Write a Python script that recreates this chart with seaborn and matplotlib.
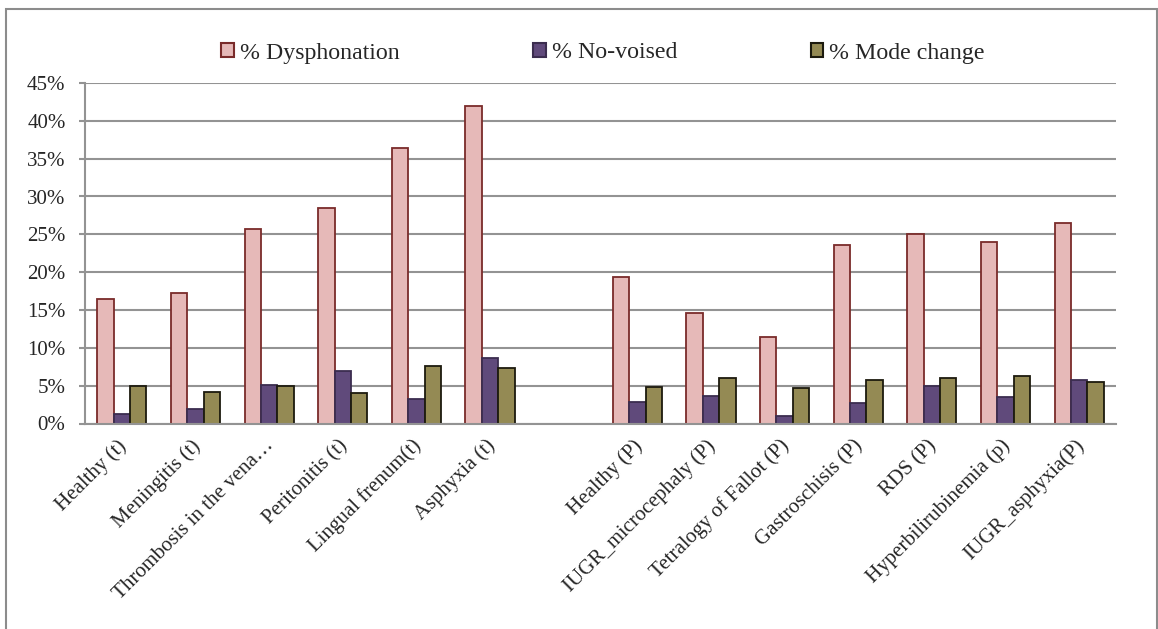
import numpy as np
import pandas as pd
import matplotlib
matplotlib.use("Agg")
import matplotlib.pyplot as plt
import matplotlib.transforms as mtransforms
from matplotlib.patches import Rectangle, Patch
from matplotlib.ticker import PercentFormatter
import seaborn as sns

# Categories (term "t" group, then preterm "P" group, separated by an empty slot)
term_conditions = ["Healthy (t)", "Meningitis (t)", "Thrombosis in the vena\u2026",
                   "Peritonitis (t)", "Lingual frenum(t)", "Asphyxia (t)"]
preterm_conditions = ["Healthy (P)", "IUGR_microcephaly (P)", "Tetralogy of Fallot (P)",
                      "Gastroschisis (P)", "RDS (P)", "Hyperbilirubinemia (p)", "IUGR_asphyxia(P)"]
spacer = " "

# Percentages per condition
dysphonation = [16.4, 17.2, 25.7, 28.5, 36.4, 42.0,
                19.4, 14.6, 11.4, 23.6, 25.1, 24.0, 26.5]
no_voised = [1.3, 1.9, 5.1, 6.9, 3.2, 8.6,
             2.8, 3.6, 0.95, 2.7, 5.0, 3.5, 5.7]
mode_change = [4.9, 4.1, 4.9, 4.0, 7.6, 7.3,
               4.8, 6.0, 4.7, 5.8, 6.0, 6.3, 5.5]

series_names = ["% Dysphonation", "% No-voised", "% Mode change"]
fill_colors = ["#E6B9B8", "#604A7B", "#948A54"]
edge_colors = ["#7A2B2A", "#3B2D4F", "#1C1A0E"]

conditions = term_conditions + preterm_conditions
order = term_conditions + [spacer] + preterm_conditions

df = pd.DataFrame({
    "condition": conditions * 3,
    "series": np.repeat(series_names, len(conditions)),
    "value": dysphonation + no_voised + mode_change,
})

sns.set_theme(style="white")
plt.rcParams["font.family"] = ["Liberation Serif", "DejaVu Serif"]
TICK_FS = 15
LEGEND_FS = 17.2

W, H = 1158, 629
fig = plt.figure(figsize=(W / 100, H / 100), dpi=100)
ax = fig.add_axes([85 / W, 1 - 423.5 / H, (1116 - 85) / W, (423.5 - 83) / H])

sns.barplot(data=df, x="condition", y="value", hue="series", order=order,
            hue_order=series_names, palette=fill_colors, width=0.667, gap=0,
            errorbar=None, legend=False, ax=ax, saturation=1)

for cont, ec in zip(ax.containers, edge_colors):
    for bar in cont:
        bar.set_edgecolor(ec)
        bar.set_linewidth(1.3)

grey = "#939393"
ax.set_ylim(0, 45)
ax.set_yticks(np.arange(0, 46, 5))
ax.yaxis.set_major_formatter(PercentFormatter(decimals=0))
ax.yaxis.grid(True, color=grey, linewidth=1.5)
ax.set_axisbelow(True)
ax.set_xlim(-0.5, len(order) - 0.5)

for side in ["top", "right"]:
    ax.spines[side].set_visible(False)
for side in ["left", "bottom"]:
    ax.spines[side].set_color(grey)
    ax.spines[side].set_linewidth(1.5)

ax.set_xlabel("")
ax.set_ylabel("")

# Tick marks on slot boundaries, labels at slot centres
ax.set_xticks(np.arange(-0.5, len(order), 1.0))
ax.set_xticklabels([])
ax.set_xticks(np.arange(len(order)), minor=True)
ax.set_xticklabels(order, minor=True, rotation=45, ha="right", va="center",
                   rotation_mode="anchor", fontsize=TICK_FS)
ax.tick_params(axis="x", which="major", length=5, width=1.5, color=grey, direction="out")
ax.tick_params(axis="x", which="minor", length=0, pad=14)
ax.tick_params(axis="y", length=4.5, width=1.5, color=grey, direction="out",
               pad=9.5, labelsize=TICK_FS, left=True)
shift = mtransforms.ScaledTranslation(2 / 100, 0, fig.dpi_scale_trans)
for lbl in ax.get_xticklabels(minor=True):
    lbl.set_transform(lbl.get_transform() + shift)

handles = [Patch(facecolor=fc, edgecolor=ec, linewidth=1.5)
           for fc, ec in zip(fill_colors, edge_colors)]
fig.legend(handles, series_names, loc="center", bbox_to_anchor=(603 / W, 1 - 53 / H),
           ncol=3, frameon=False, fontsize=LEGEND_FS, handlelength=0.52, handleheight=0.55,
           handletextpad=0.25, columnspacing=5.6, borderpad=0)

# Chart area border
fig.add_artist(Rectangle((6 / W, -0.02), (1157 - 6) / W, (H - 9) / H + 0.02,
                         transform=fig.transFigure, fill=False, edgecolor="#8C8C8C",
                         linewidth=1.5, clip_on=False))

fig.savefig("out.png", dpi=100, facecolor="white")
